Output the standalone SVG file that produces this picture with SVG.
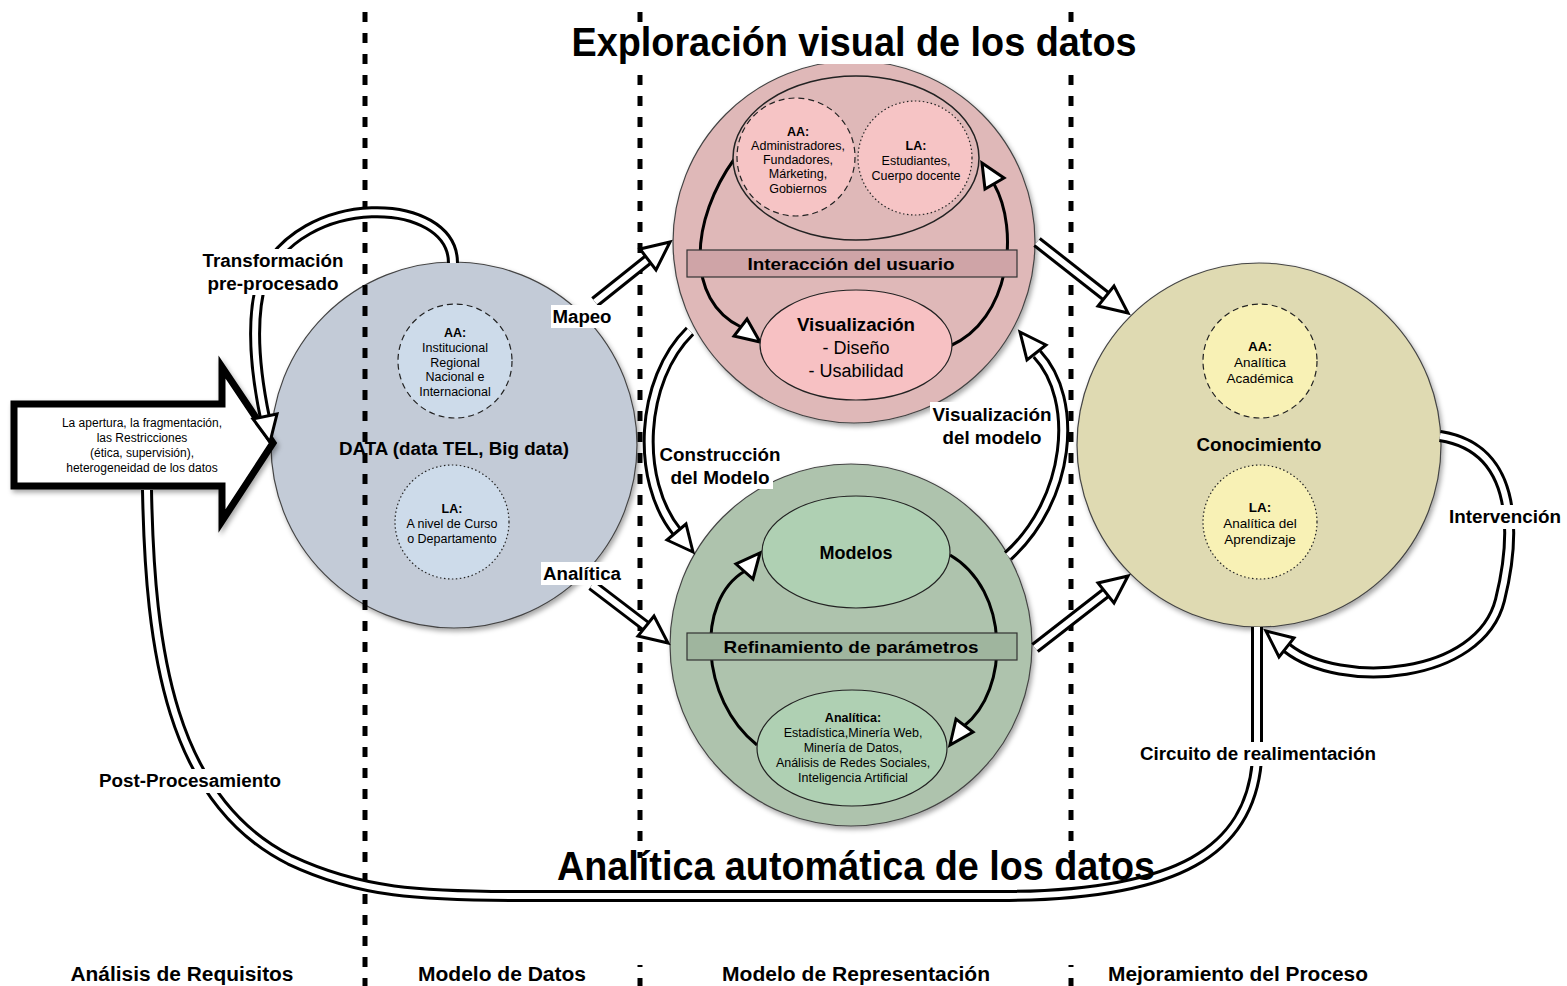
<svg xmlns="http://www.w3.org/2000/svg" width="1567" height="986" viewBox="0 0 1567 986">
<defs>
<filter id="sh" x="-10%" y="-10%" width="125%" height="125%"><feDropShadow dx="2" dy="3" stdDeviation="2.5" flood-color="#000" flood-opacity="0.35"/></filter>
<style>
text{font-family:"Liberation Sans",Arial,Helvetica,sans-serif;text-anchor:middle;fill:#000}
.b{font-weight:bold}
.lbl{font-size:18px;font-weight:bold}
.s{font-size:12.5px}
.s2{font-size:13.5px}
.dl-o{fill:none;stroke:#000;stroke-width:12}
.dl-i{fill:none;stroke:#fff;stroke-width:6}
.head{fill:#fff;stroke:#000;stroke-width:3;stroke-linejoin:miter}
.arc{fill:none;stroke:#000;stroke-width:3}
.dots{stroke:#000;stroke-width:5;stroke-dasharray:10 11;fill:none}
.dash{stroke:#222;stroke-width:1.2;stroke-dasharray:6 4}
.dot{stroke:#222;stroke-width:1.2;stroke-dasharray:1.5 2.5}
.bg{fill:#fff}
</style>
</defs>
<rect width="1567" height="986" fill="#fff"/>

<!-- big circles -->
<g id="data-circle"><circle cx="454" cy="445" r="183" fill="#c3cbd7" stroke="#444" stroke-width="1.2" filter="url(#sh)"/></g>
<g id="vis-circle"><circle cx="854" cy="242" r="181" fill="#dfb8b8" stroke="#444" stroke-width="1.2" filter="url(#sh)"/></g>
<g id="model-circle"><circle cx="851" cy="645" r="181" fill="#aec3ad" stroke="#444" stroke-width="1.2" filter="url(#sh)"/></g>
<g id="know-circle"><circle cx="1259" cy="445" r="182" fill="#dfdab2" stroke="#444" stroke-width="1.2" filter="url(#sh)"/></g>

<!-- phase separators -->
<g id="separators">
<line class="dots" x1="365" y1="12" x2="365" y2="986"/>
<line class="dots" x1="640" y1="12" x2="640" y2="986"/>
<line class="dots" x1="1071" y1="12" x2="1071" y2="986"/>
</g>

<!-- title backgrounds -->
<rect class="bg" x="568" y="22" width="574" height="42"/>
<rect class="bg" x="553" y="858" width="606" height="107"/>

<!-- left block arrow -->
<g id="constraints">
<polygon points="14,404 222,404 222,367 273,443 222,521 222,486 14,486" fill="#fff" stroke="#000" stroke-width="7" stroke-linejoin="miter" filter="url(#sh)"/>
<text font-size="12" x="142" y="427">La apertura, la fragmentación,</text>
<text font-size="12" x="142" y="442">las Restricciones</text>
<text font-size="12" x="142" y="457">(ética, supervisión),</text>
<text font-size="12" x="142" y="472">heterogeneidad de los datos</text>
</g>

<!-- connectors -->
<g id="connectors">
<!-- long feedback loop -->
<path class="dl-o" d="M 147,490 C 150,650 170,800 290,860 C 360,893 420,896 520,896 L 1000,896 C 1180,896 1250,850 1257,760 L 1257,627"/>
<path class="dl-i" d="M 147,490 C 150,650 170,800 290,860 C 360,893 420,896 520,896 L 1000,896 C 1180,896 1250,850 1257,760 L 1257,627"/>
<!-- transformation loop -->
<path class="dl-o" d="M 453,263 C 453,195 300,190 262,280 C 250,320 255,370 265,418"/>
<path class="dl-i" d="M 453,263 C 453,195 300,190 262,280 C 250,320 255,370 265,418"/>
<polygon class="head" points="270,442 253,419 277,414"/>
<!-- Mapeo -->
<path class="dl-o" d="M 595,302 L 650,258"/>
<path class="dl-i" d="M 595,302 L 650,258"/>
<polygon class="head" points="670,242 656,270 640,249"/>
<!-- Analitica -->
<path class="dl-o" d="M 592,585 L 647,627"/>
<path class="dl-i" d="M 592,585 L 647,627"/>
<polygon class="head" points="668,643 638,636 654,616"/>
<!-- top to knowledge -->
<path class="dl-o" d="M 1037,242 L 1107,297"/>
<path class="dl-i" d="M 1037,242 L 1107,297"/>
<polygon class="head" points="1128,313 1098,306 1114,286"/>
<!-- bottom to knowledge -->
<path class="dl-o" d="M 1035,648 L 1107,592"/>
<path class="dl-i" d="M 1035,648 L 1107,592"/>
<polygon class="head" points="1128,576 1114,603 1098,583"/>
<!-- Construccion del modelo -->
<path class="dl-o" d="M 690,331 C 640,380 635,480 677,532"/>
<path class="dl-i" d="M 690,331 C 640,380 635,480 677,532"/>
<polygon class="head" points="693,552 667,540 686,524"/>
<!-- Visualizacion del modelo -->
<path class="dl-o" d="M 1008,556 C 1070,500 1080,400 1037,354"/>
<path class="dl-i" d="M 1008,556 C 1070,500 1080,400 1037,354"/>
<polygon class="head" points="1020,332 1046,345 1027,360"/>
<!-- Intervencion -->
<path class="dl-o" d="M 1440,436 C 1530,450 1510,560 1500,600 C 1480,680 1340,690 1287,648"/>
<path class="dl-i" d="M 1440,436 C 1530,450 1510,560 1500,600 C 1480,680 1340,690 1287,648"/>
<polygon class="head" points="1266,631 1294,638 1279,657"/>
<!-- inner cycle: user interaction -->
<path class="arc" d="M 735,158 C 690,220 685,300 741,327"/>
<polygon class="head" points="760,342 734,336 747,319"/>
<path class="arc" d="M 950,346 C 1010,320 1020,230 994,184"/>
<polygon class="head" points="982,163 1004,178 985,189"/>
<!-- inner cycle: parameter refinement -->
<path class="arc" d="M 757,745 C 700,700 695,600 745,571"/>
<polygon class="head" points="760,553 753,579 736,564"/>
<path class="arc" d="M 950,555 C 1010,590 1010,690 964,726"/>
<polygon class="head" points="950,745 956,719 973,732"/>
</g>

<!-- DATA inner -->
<g id="data-aa">
<circle cx="455" cy="361" r="57" fill="#cddbea" class="dash"/>
<text class="s b" x="455" y="337">AA:</text>
<text class="s" x="455" y="352">Institucional</text>
<text class="s" x="455" y="367">Regional</text>
<text class="s" x="455" y="381">Nacional e</text>
<text class="s" x="455" y="396">Internacional</text>
</g>
<g id="data-la">
<circle cx="452" cy="522" r="57" fill="#cddbea" class="dot"/>
<text class="s b" x="452" y="513">LA:</text>
<text class="s" x="452" y="528">A nivel de Curso</text>
<text class="s" x="452" y="543">o Departamento</text>
</g>
<g id="data-label"><text class="lbl" x="454" y="455" textLength="230" lengthAdjust="spacingAndGlyphs">DATA (data TEL, Big data)</text></g>

<!-- Visual exploration inner -->
<g id="stakeholders">
<ellipse cx="856" cy="158" rx="123" ry="82" fill="#dfb8b8" stroke="#222" stroke-width="1.5"/>
</g>
<g id="vis-aa">
<circle cx="796" cy="157" r="59" fill="#f6c4c5" class="dash"/>
<text class="s b" x="798" y="136">AA:</text>
<text class="s" x="798" y="150">Administradores,</text>
<text class="s" x="798" y="164">Fundadores,</text>
<text class="s" x="798" y="178">Márketing,</text>
<text class="s" x="798" y="193">Gobiernos</text>
</g>
<g id="vis-la">
<circle cx="915" cy="158" r="57" fill="#f6c4c5" class="dot"/>
<text class="s b" x="916" y="150">LA:</text>
<text class="s" x="916" y="165">Estudiantes,</text>
<text class="s" x="916" y="180">Cuerpo docente</text>
</g>
<g id="user-interaction">
<rect x="687" y="250" width="330" height="27" fill="#cfa4a7" stroke="#333" stroke-width="1.2"/>
<text font-size="17" class="b" x="851" y="270" textLength="207" lengthAdjust="spacingAndGlyphs">Interacción del usuario</text>
</g>
<g id="visualization">
<ellipse cx="856" cy="345" rx="96" ry="55" fill="#f7c1c3" stroke="#222" stroke-width="1.2"/>
<text class="lbl" x="856" y="331" textLength="118" lengthAdjust="spacingAndGlyphs">Visualización</text>
<text font-size="18" x="856" y="354">- Diseño</text>
<text font-size="18" x="856" y="377">- Usabilidad</text>
</g>

<!-- Model inner -->
<g id="models">
<ellipse cx="856" cy="552" rx="94" ry="56" fill="#afd0b3" stroke="#222" stroke-width="1.2"/>
<text class="lbl" x="856" y="559">Modelos</text>
</g>
<g id="refinement">
<rect x="687" y="633" width="330" height="27" fill="#9fb59e" stroke="#333" stroke-width="1.2"/>
<text font-size="17" class="b" x="851" y="653" textLength="255" lengthAdjust="spacingAndGlyphs">Refinamiento de parámetros</text>
</g>
<g id="analytics">
<ellipse cx="852" cy="748" rx="95" ry="58" fill="#afd0b3" stroke="#222" stroke-width="1.2"/>
<text class="s b" x="853" y="722">Analítica:</text>
<text class="s" x="853" y="737">Estadística,Minería Web,</text>
<text class="s" x="853" y="752">Minería de Datos,</text>
<text class="s" x="853" y="767">Análisis de Redes Sociales,</text>
<text class="s" x="853" y="782">Inteligencia Artificial</text>
</g>

<!-- Knowledge inner -->
<g id="know-aa">
<circle cx="1260" cy="361" r="57" fill="#f8f1b5" class="dash"/>
<text class="s2 b" x="1260" y="351">AA:</text>
<text class="s2" x="1260" y="367">Analítica</text>
<text class="s2" x="1260" y="383">Académica</text>
</g>
<g id="know-label"><text class="lbl" x="1259" y="451" textLength="125" lengthAdjust="spacingAndGlyphs">Conocimiento</text></g>
<g id="know-la">
<circle cx="1260" cy="522" r="57" fill="#f8f1b5" class="dot"/>
<text class="s2 b" x="1260" y="512">LA:</text>
<text class="s2" x="1260" y="528">Analítica del</text>
<text class="s2" x="1260" y="544">Aprendizaje</text>
</g>

<!-- connector labels -->
<g id="labels">
<rect class="bg" x="200" y="249" width="148" height="46"/>
<text class="lbl" x="273" y="267" textLength="141" lengthAdjust="spacingAndGlyphs">Transformación</text>
<text class="lbl" x="273" y="290" textLength="131" lengthAdjust="spacingAndGlyphs">pre-procesado</text>
<rect class="bg" x="551" y="305" width="64" height="23"/>
<text class="lbl" x="582" y="323" textLength="59" lengthAdjust="spacingAndGlyphs">Mapeo</text>
<rect class="bg" x="541" y="562" width="83" height="23"/>
<text class="lbl" x="582" y="580" textLength="78" lengthAdjust="spacingAndGlyphs">Analítica</text>
<rect class="bg" x="657" y="442" width="127" height="24"/>
<rect class="bg" x="667" y="466" width="106" height="23"/>
<text class="lbl" x="720" y="461" textLength="121" lengthAdjust="spacingAndGlyphs">Construcción</text>
<text class="lbl" x="720" y="484" textLength="99" lengthAdjust="spacingAndGlyphs">del Modelo</text>
<rect class="bg" x="930" y="402" width="123" height="47"/>
<text class="lbl" x="992" y="421" textLength="119" lengthAdjust="spacingAndGlyphs">Visualización</text>
<text class="lbl" x="992" y="444" textLength="99" lengthAdjust="spacingAndGlyphs">del modelo</text>
<rect class="bg" x="1446" y="505" width="119" height="24"/>
<text class="lbl" x="1505" y="523" textLength="112" lengthAdjust="spacingAndGlyphs">Intervención</text>
<rect class="bg" x="1137" y="742" width="242" height="24"/>
<text class="lbl" x="1258" y="760" textLength="236" lengthAdjust="spacingAndGlyphs">Circuito de realimentación</text>
<rect class="bg" x="96" y="769" width="188" height="24"/>
<text class="lbl" x="190" y="787" textLength="182" lengthAdjust="spacingAndGlyphs">Post-Procesamiento</text>
</g>

<!-- titles -->
<g id="titles">
<text class="b" font-size="40" x="854" y="56" textLength="565" lengthAdjust="spacingAndGlyphs">Exploración visual de los datos</text>
<text class="b" font-size="40" x="856" y="880" textLength="598" lengthAdjust="spacingAndGlyphs">Analítica automática de los datos</text>
</g>

<!-- phase labels -->
<g id="phases">
<text class="b" font-size="20" x="182" y="981" textLength="223" lengthAdjust="spacingAndGlyphs">Análisis de Requisitos</text>
<text class="b" font-size="20" x="502" y="981" textLength="168" lengthAdjust="spacingAndGlyphs">Modelo de Datos</text>
<text class="b" font-size="20" x="856" y="981" textLength="268" lengthAdjust="spacingAndGlyphs">Modelo de Representación</text>
<text class="b" font-size="20" x="1238" y="981" textLength="260" lengthAdjust="spacingAndGlyphs">Mejoramiento del Proceso</text>
</g>
</svg>
